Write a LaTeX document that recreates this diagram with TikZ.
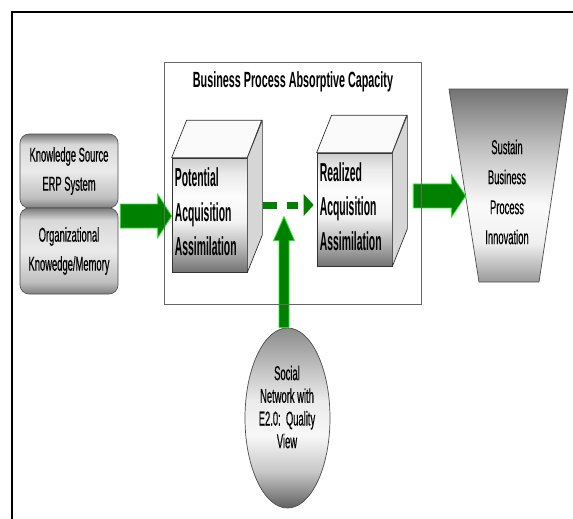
\documentclass[tikz,border=0pt]{standalone}
\usepackage{fontspec}
\setmainfont{Liberation Sans}
\newfontfamily\plainnarrow{Liberation Sans}[FakeStretch=0.47, FakeBold=0.4]
\newfontfamily\cubenarrow{Liberation Sans}[FakeStretch=0.40]
\newfontfamily\titlenarrow{Liberation Sans}[FakeStretch=0.49]
\usetikzlibrary{calc,shapes.geometric}

\definecolor{arrowgreen}{RGB}{0,128,0}
\definecolor{arrowrim}{RGB}{40,230,40}

% vertical shadings: the filled path spans 25bp (bottom) to 75bp (top)
\pgfdeclareverticalshading{cubeshade}{100bp}{color(0bp)=(black!55); color(25bp)=(black!55); color(35bp)=(black!30); color(47bp)=(black!5); color(58bp)=(black!1); color(68bp)=(black!8); color(75bp)=(black!20); color(100bp)=(black!20)}
\pgfdeclareverticalshading{srcshade}{100bp}{color(0bp)=(black!50); color(25bp)=(black!50); color(32bp)=(black!25); color(50bp)=(black!8); color(68bp)=(black!15); color(75bp)=(black!52); color(100bp)=(black!52)}
\pgfdeclareverticalshading{trapshade}{100bp}{color(0bp)=(black!40); color(25bp)=(black!40); color(35bp)=(black!6); color(45bp)=(black!2); color(60bp)=(black!25); color(75bp)=(black!55); color(100bp)=(black!55)}
\pgfdeclareverticalshading{ellshade}{100bp}{color(0bp)=(black!62); color(25bp)=(black!62); color(35bp)=(black!22); color(45bp)=(black!3); color(55bp)=(black!8); color(75bp)=(black!45); color(100bp)=(black!45)}

% horizontal block arrow: start, tip, half body, half head, head length
\newcommand\greenblockright[5]{%
  \path[greenarrow] let \p1=(#1), \p2=(#2) in
    (\x1,\y2+#3pt) -- (\x2-#5pt,\y2+#3pt) -- (\x2-#5pt,\y2+#4pt) -- (\x2,\y2)
    -- (\x2-#5pt,\y2-#4pt) -- (\x2-#5pt,\y2-#3pt) -- (\x1,\y2-#3pt) -- cycle;}
% vertical block arrow pointing up: start, tip, half body, half head, head length
\newcommand\greenblockup[5]{%
  \path[greenarrow] let \p1=(#1), \p2=(#2) in
    (\x2-#3pt,\y1) -- (\x2-#3pt,\y2-#5pt) -- (\x2-#4pt,\y2-#5pt) -- (\x2,\y2)
    -- (\x2+#4pt,\y2-#5pt) -- (\x2+#3pt,\y2-#5pt) -- (\x2+#3pt,\y1) -- cycle;}

\begin{document}
\begin{tikzpicture}[x=1pt,y=-1pt,
  greenarrow/.style={fill=arrowgreen, draw=arrowrim, line width=0.8, line join=miter},
  srcbox/.style={draw=black!70, line width=0.6, rounded corners=9, shade, shading=srcshade,
    minimum width=98, inner sep=0, align=center,
    font=\fontsize{20}{29}\selectfont\plainnarrow},
  cubefront/.style={draw=black!80, line width=0.7, shade, shading=cubeshade,
    minimum width=75, minimum height=114, inner sep=0},
  cubetext/.style={anchor=west, inner sep=0, align=left,
    font=\fontsize{26}{34.5}\selectfont\cubenarrow\bfseries},
  cubeedge/.style={draw=black!80, line width=0.7, line join=round},
  plainlabel/.style={align=center, inner sep=0},
]
\useasboundingbox (0,0) rectangle (573,519);
\fill[white] (0,0) rectangle (573,519);

% page frame
\draw[line width=2.4, line join=miter] (12,519) -- (12,12) -- (573,12);

% knowledge sources
\node[srcbox, minimum height=74] (erp) at (69,171) {Knowledge Source\\ERP System};
\node[srcbox, minimum height=86] (memory) at (69,251) {Organizational\\Knowedge/Memory};

% the two absorptive-capacity cubes
\node[cubefront] (potential) at (209.5,215) {};
\node[cubefront, minimum height=113] (realized) at (354.5,209.5) {};
\foreach \c in {potential,realized} {
  \draw[cubeedge, fill=black!2] (\c.north west) -- ++(15,-37.5) -- ++(75,0) -- (\c.north east) -- cycle;
  \draw[cubeedge, fill=black!16] (\c.north east) -- ++(15,-37.5)
    -- ($(\c.south east)+(15,-37.5)$) -- (\c.south east) -- cycle;
}
\node[cubetext] (potentiallabel) at ($(potential.west)+(3,-3)$) {Potential\\Acquisition\\Assimilation};
\node[cubetext] (realizedlabel) at ($(realized.west)+(3,-3)$) {Realized\\Acquisition\\Assimilation};

% outcome funnel
\coordinate (trapTL) at (449,89);
\coordinate (trapTR) at (568,89);
\coordinate (trapBR) at (539,282);
\coordinate (trapBL) at (479,282);
\draw[draw=black!70, line width=0.7, shade, shading=trapshade] (trapTL) -- (trapTR) -- (trapBR) -- (trapBL) -- cycle;
\node[plainlabel, font=\fontsize{20}{30}\selectfont\plainnarrow] (sustain) at (507,192) {Sustain\\Business\\Process\\Innovation};

% social network
\node[ellipse, draw=black!70, line width=0.7, shade, shading=ellshade,
  minimum width=85, minimum height=180, inner sep=0] (social) at (287.5,418) {};
\node[plainlabel, font=\fontsize{20}{22.7}\selectfont\plainnarrow] (socialtext) at (287,407) {Social\\Network with\\E2.0:\ \ Quality\\View};

% flows
\coordinate (a1start) at ($(memory.east |- potential.west)+(2,1)$);
\coordinate (a1tip) at ($(potential.west)+(0,1)$);
\greenblockright{a1start}{a1tip}{12}{22}{14}

\coordinate (a2tip) at ($(trapTL)!0.554!(trapBL)$);
\coordinate (a2start) at ($(a2tip -| realized.east)+(21,0)$);
\greenblockright{a2start}{a2tip}{12}{21}{14}

\coordinate (dashstart) at ($(potential.east)+(16,-10)$);
\coordinate (dashtip) at ($(dashstart -| realized.west)+(-3,0)$);
\draw[arrowgreen, line width=7, dash pattern=on 14 off 10] (dashstart) -- ($(dashtip)+(-16,0)$);
\path[fill=arrowgreen] let \p1=(dashtip) in (\p1) -- (\x1-10pt,\y1+11pt) -- (\x1-10pt,\y1-11pt) -- cycle;

\coordinate (junction) at ($(social.north)+(-3.5,-111)$);
\greenblockup{social.north}{junction}{5}{10.5}{24}

% business process absorptive capacity frame
\node[draw=black!60, line width=0.8, minimum width=257, minimum height=242, inner sep=0] (capacity) at (292.5,183) {};
\node[inner sep=0, font=\fontsize{22}{26}\selectfont\titlenarrow\bfseries] (title) at (293,82) {Business Process Absorptive Capacity};
\end{tikzpicture}
\end{document}
